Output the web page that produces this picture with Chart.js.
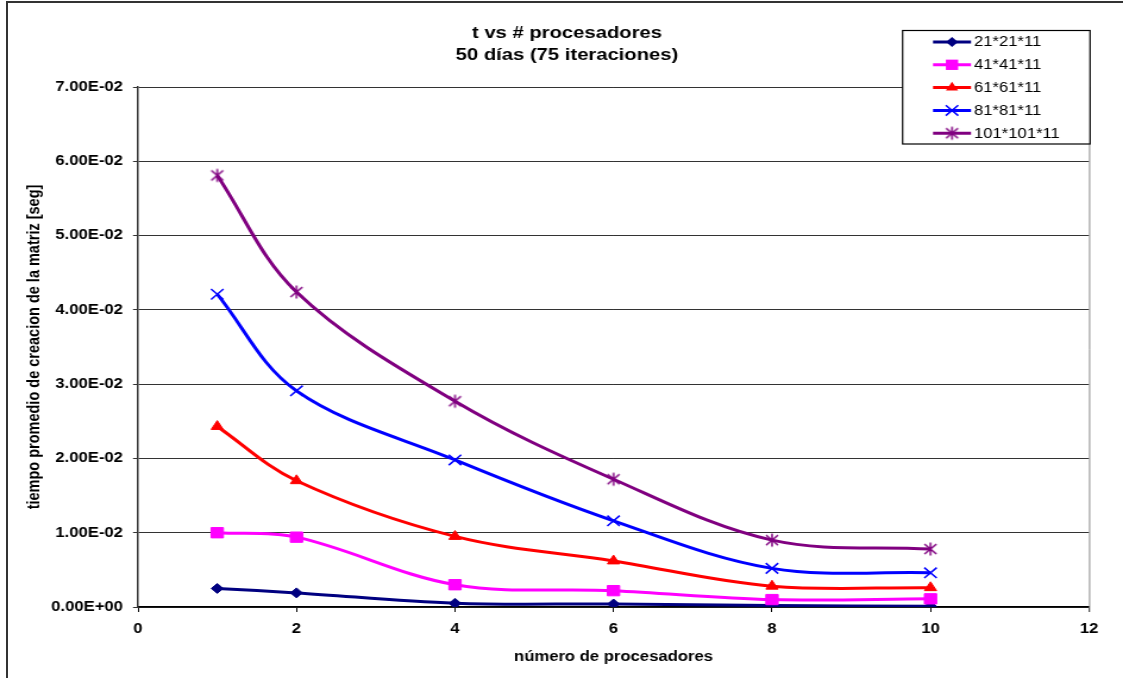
<!DOCTYPE html>
<html>
<head>
<meta charset="utf-8">
<script src="https://cdn.jsdelivr.net/npm/chart.js@4/dist/chart.umd.min.js"></script>
<style>
  html, body { margin: 0; padding: 0; background: #fff; overflow: hidden; width: 1123px; height: 678px; }
  #frame { position: absolute; left: 6px; top: 1px; width: 1200px; height: 800px; border: 2px solid #333; box-sizing: border-box; }
  #wrap { position: absolute; left: 0; top: 0; height: 678px; transform-origin: 0 0; }
</style>
</head>
<body>
<div id="frame"></div>
<div id="wrap"><canvas id="c"></canvas></div>
<script>
// Number of processors (x) and mean matrix-build time in seconds (y)
const processors = [1, 2, 4, 6, 8, 10];
const seriesNames = ['21*21*11', '41*41*11', '61*61*11', '81*81*11', '101*101*11'];
const t21  = [0.0025, 0.0019, 0.0005, 0.0004, 0.0002, 0.0001];
const t41  = [0.0100, 0.0094, 0.0030, 0.0022, 0.0010, 0.0011];
const t61  = [0.0243, 0.0170, 0.0095, 0.0062, 0.0028, 0.0026];
const t81  = [0.0421, 0.0291, 0.0198, 0.0116, 0.0052, 0.0046];
const t101 = [0.0581, 0.0424, 0.0277, 0.0172, 0.0090, 0.0078];
const titleLines = ['t vs # procesadores', '50 días (75 iteraciones)'];
const xAxisTitle = 'número de procesadores';
const yAxisTitle = 'tiempo promedio de creacion de la matriz [seg]';

const FONT = '"Liberation Sans", Arial, Helvetica, sans-serif';

// The chart is drawn on a narrower canvas and widened horizontally to the page width.
const PAGE_W = 1123, PAGE_H = 678;
const STRETCH = 1.19;
const CW = Math.round(PAGE_W / STRETCH);
const SX = PAGE_W / CW;
const px = v => v / SX;            // page x -> canvas x

const canvas = document.getElementById('c');
canvas.width = CW; canvas.height = PAGE_H;
const wrap = document.getElementById('wrap');
wrap.style.width = CW + 'px';
wrap.style.transform = 'scaleX(' + SX + ')';

// asterisk marker: an X with a vertical bar through it
function asteriskMarker(color) {
  const c = document.createElement('canvas');
  c.width = 16; c.height = 16;
  const g = c.getContext('2d');
  g.strokeStyle = color;
  g.lineWidth = 1.5;
  g.beginPath();
  g.moveTo(3, 3); g.lineTo(13, 13);
  g.moveTo(3, 13); g.lineTo(13, 3);
  g.moveTo(8, 1.5); g.lineTo(8, 14.5);
  g.stroke();
  return c;
}

const looks = [
  { color: '#000080', style: 'rectRot', radius: 5 },
  { color: '#FF00FF', style: 'rect', radius: 7.3 },
  { color: '#FF0000', style: 'triangle', radius: 5.9 },
  { color: '#0000FF', style: 'crossRot', radius: 7.4 },
  { color: '#800080', style: asteriskMarker('#800080'), radius: 7 }
];
const values = [t21, t41, t61, t81, t101];

const datasets = values.map((vals, i) => ({
  label: seriesNames[i],
  data: processors.map((p, j) => ({ x: p, y: vals[j] })),
  borderColor: looks[i].color,
  backgroundColor: looks[i].color,
  borderWidth: 3,
  tension: 0.35,
  pointStyle: looks[i].style,
  pointRadius: looks[i].radius,
  pointBackgroundColor: looks[i].color,
  pointBorderColor: looks[i].color,
  pointBorderWidth: looks[i].style === 'crossRot' ? 1.5 : 1,
  order: values.length - 1 - i
}));

function sci(v) {
  if (Math.abs(v) < 1e-12) return '0.00E+00';
  const [m, e] = v.toExponential(2).split('e');
  const n = parseInt(e, 10);
  return m + 'E' + (n < 0 ? '-' : '+') + String(Math.abs(n)).padStart(2, '0');
}

function legendMarker(ctx, look, x, y) {
  const r = look.radius;
  ctx.fillStyle = look.color;
  ctx.strokeStyle = look.color;
  if (typeof look.style !== 'string') {
    ctx.drawImage(look.style, x - look.style.width / 2, y - look.style.height / 2);
    return;
  }
  ctx.beginPath();
  if (look.style === 'rectRot') {
    ctx.moveTo(x - r, y); ctx.lineTo(x, y - r); ctx.lineTo(x + r, y); ctx.lineTo(x, y + r);
    ctx.closePath(); ctx.fill();
  } else if (look.style === 'rect') {
    const h = r * Math.SQRT1_2;
    ctx.rect(x - h, y - h, 2 * h, 2 * h); ctx.fill();
  } else if (look.style === 'triangle') {
    ctx.moveTo(x, y - r); ctx.lineTo(x + 0.866 * r, y + 0.5 * r); ctx.lineTo(x - 0.866 * r, y + 0.5 * r);
    ctx.closePath(); ctx.fill();
  } else if (look.style === 'crossRot') {
    const h = r * Math.SQRT1_2;
    ctx.lineWidth = 1.5;
    ctx.moveTo(x - h, y - h); ctx.lineTo(x + h, y + h);
    ctx.moveTo(x - h, y + h); ctx.lineTo(x + h, y - h);
    ctx.stroke();
  }
}

const decorations = {
  id: 'decorations',
  beforeDatasetsDraw(chart) {
    const { ctx, chartArea: a } = chart;
    ctx.save();
    ctx.strokeStyle = '#8a8a8a';
    ctx.lineWidth = 1;
    ctx.beginPath();
    ctx.moveTo(a.right + 0.5, a.top);
    ctx.lineTo(a.right + 0.5, a.bottom + 5);
    ctx.stroke();
    ctx.restore();
  },
  afterDraw(chart) {
    const ctx = chart.ctx;
    ctx.save();
    // chart title
    ctx.fillStyle = '#000';
    ctx.font = 'bold 17px ' + FONT;
    ctx.textAlign = 'center';
    ctx.textBaseline = 'alphabetic';
    titleLines.forEach((t, i) => ctx.fillText(t, px(567), 38 + i * 22));

    // legend box
    const box = { l: px(902) + 0.5, t: 30.5, r: px(1090), b: 144 };
    ctx.fillStyle = '#fff';
    ctx.fillRect(box.l, box.t, box.r - box.l, box.b - box.t);
    ctx.strokeStyle = '#000';
    ctx.lineWidth = 1.2;
    ctx.strokeRect(box.l, box.t, box.r - box.l, box.b - box.t);
    chart.data.datasets.forEach((ds, i) => {
      const y = 42 + i * 22.8;
      ctx.strokeStyle = ds.borderColor;
      ctx.lineWidth = 3;
      ctx.beginPath();
      ctx.moveTo(px(933), y); ctx.lineTo(px(971), y);
      ctx.stroke();
      legendMarker(ctx, looks[i], px(952), y);
      ctx.fillStyle = '#000';
      ctx.font = '14px ' + FONT;
      ctx.textAlign = 'left';
      ctx.textBaseline = 'middle';
      ctx.fillText(ds.label, px(974), y + 0.5);
    });
    ctx.restore();
  }
};

new Chart(canvas, {
  type: 'line',
  data: { datasets },
  plugins: [decorations],
  options: {
    responsive: false,
    animation: false,
    devicePixelRatio: 1,
    layout: { padding: { left: px(7), right: px(PAGE_W - 1089), top: 87, bottom: 0 } },
    plugins: { legend: { display: false }, title: { display: false }, tooltip: { enabled: false } },
    scales: {
      x: {
        type: 'linear',
        min: 0, max: 12,
        afterFit: s => { s.height = PAGE_H - 607; },
        ticks: { stepSize: 2, padding: 9, color: '#000', maxRotation: 0, autoSkip: false,
                 font: { family: FONT, weight: 'bold', size: 14 } },
        grid: { drawOnChartArea: false, drawTicks: true, tickLength: 5, color: '#000' },
        border: { display: true, color: '#000', width: 1.5 },
        title: { display: true, text: xAxisTitle, color: '#000', padding: { top: 0, bottom: 12.5 },
                 font: { family: FONT, weight: 'bold', size: 14 } }
      },
      y: {
        type: 'linear',
        min: 0, max: 0.07,
        afterFit: s => { s.width = px(138) - px(7); },
        ticks: { stepSize: 0.01, padding: px(10), color: '#000', callback: v => sci(v),
                 font: { family: FONT, weight: 'bold', size: 14 } },
        grid: { color: '#333', lineWidth: 1, drawTicks: true, tickLength: px(5) },
        border: { display: true, color: '#333', width: 1.5 },
        title: { display: true, text: yAxisTitle, color: '#000', padding: { top: 14, bottom: 0 },
                 font: { family: FONT, weight: 'bold', size: 14.5 } }
      }
    }
  }
});
</script>
</body>
</html>
